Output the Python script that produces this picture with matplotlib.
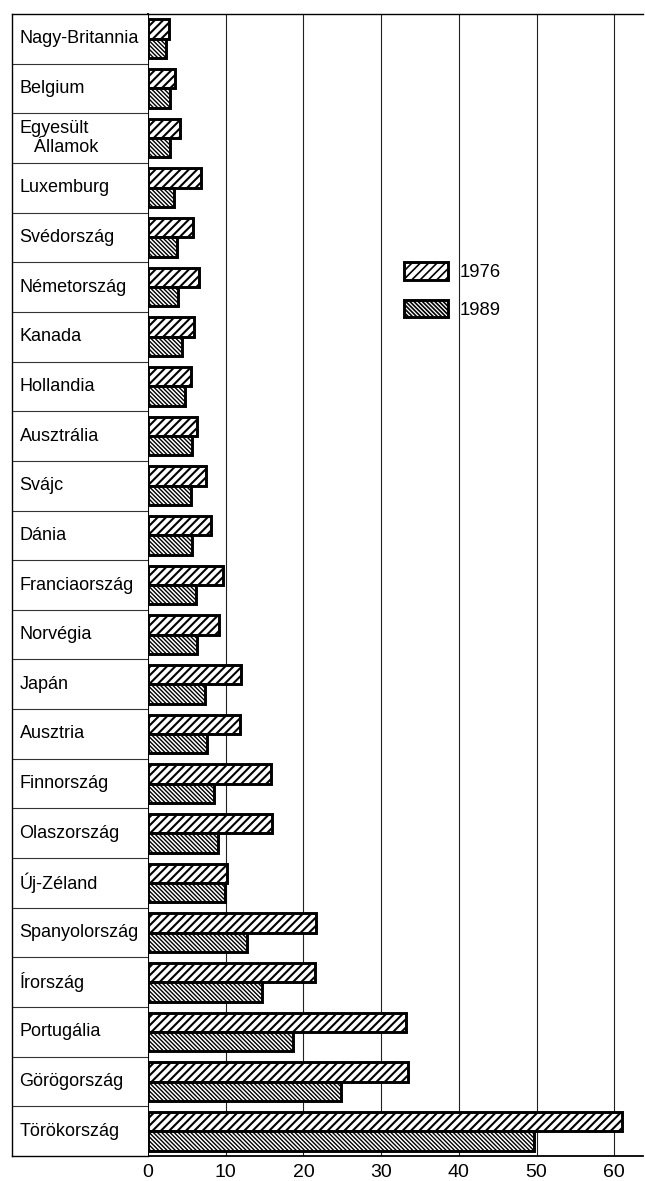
import matplotlib
matplotlib.use('Agg')
import matplotlib.pyplot as plt
from matplotlib.patches import Patch
import numpy as np

countries = ["Nagy-Britannia", "Belgium", "Egyesült\n   Államok", "Luxemburg",
             "Svédország", "Németország", "Kanada", "Hollandia", "Ausztrália",
             "Svájc", "Dánia", "Franciaország", "Norvégia", "Japán", "Ausztria",
             "Finnország", "Olaszország", "Új-Zéland", "Spanyolország",
             "Írország", "Portugália", "Görögország", "Törökország"]
v1976 = [2.7, 3.5, 4.1, 6.8, 5.8, 6.6, 5.9, 5.5, 6.3, 7.5, 8.1, 9.6, 9.2,
         12.0, 11.9, 15.8, 15.9, 10.2, 21.6, 21.5, 33.2, 33.4, 61.0]
v1989 = [2.3, 2.8, 2.8, 3.3, 3.7, 3.8, 4.4, 4.7, 5.6, 5.5, 5.6, 6.2, 6.3,
         7.4, 7.6, 8.5, 9.0, 9.9, 12.7, 14.7, 18.6, 24.8, 49.7]
series_labels = ["1976", "1989"]
xticks = [0, 10, 20, 30, 40, 50, 60]

plt.rcParams['font.family'] = ['Liberation Sans', 'DejaVu Sans']
plt.rcParams['hatch.linewidth'] = 1.2

W, H = 645, 1181
fig = plt.figure(figsize=(W / 100, H / 100), dpi=100)

def fx(px):
    return px / W

x0, x1 = 148, 643
ytop, ybot = 14, 1156
px_per_unit = 7.77

ax = fig.add_axes([fx(x0), 1 - ybot / H, fx(x1 - x0), (ybot - ytop) / H])
lab = fig.add_axes([fx(12), 1 - ybot / H, fx(x0 - 12), (ybot - ytop) / H])

HATCH_A = '////'
HATCH_B = '\\' * 8

n = len(countries)
y = np.arange(n)
h = 0.39
b1 = ax.barh(y - h / 2, v1976, height=h, color='white', edgecolor='black',
             linewidth=2.1, hatch=HATCH_A, label=series_labels[0], zorder=3)
b2 = ax.barh(y + h / 2, v1989, height=h, color='white', edgecolor='black',
             linewidth=2.1, hatch=HATCH_B, label=series_labels[1], zorder=3)
for p in b1:
    if hasattr(p, 'set_hatch_linewidth'):
        p.set_hatch_linewidth(1.5)
for p in b2:
    if hasattr(p, 'set_hatch_linewidth'):
        p.set_hatch_linewidth(1.0)

ax.set_ylim(n - 0.5, -0.5)
ax.set_xlim(0, (x1 - x0) / px_per_unit)
ax.set_xticks(xticks)
ax.set_xticklabels([str(t) for t in xticks])
ax.set_yticks([])
ax.grid(axis='x', color='#222222', linewidth=0.8, zorder=0)
ax.set_axisbelow(True)
ax.tick_params(axis='x', length=0, labelsize=14, pad=6, color='black')
for s in ['left', 'bottom', 'top']:
    ax.spines[s].set_color('black')
ax.spines['left'].set_linewidth(1.3)
ax.spines['bottom'].set_linewidth(1.3)
ax.spines['top'].set_linewidth(1.0)
ax.spines['right'].set_visible(False)

handles = [Patch(facecolor='white', edgecolor='black', linewidth=2.1, hatch=HATCH_A),
           Patch(facecolor='white', edgecolor='black', linewidth=2.1, hatch=HATCH_B)]
fig.legend(handles, series_labels, loc='upper left',
           bbox_to_anchor=(fx(404), 1 - 262 / H), bbox_transform=fig.transFigure,
           frameon=False, fontsize=13.3, handlelength=2.4, handleheight=1.1,
           handletextpad=0.6, labelspacing=1.0, borderpad=0, borderaxespad=0)

# label column
lab.set_xlim(0, 1)
lab.set_ylim(n - 0.5, -0.5)
lab.set_xticks([])
lab.set_yticks([])
for s in lab.spines.values():
    s.set_color('black')
    s.set_linewidth(1.0)
lab.spines['right'].set_visible(False)
for i in range(n - 1):
    lab.axhline(i + 0.5, color='#333333', linewidth=0.8)
for i, name in enumerate(countries):
    lab.text(0.055, i, name, ha='left', va='center', fontsize=13,
             linespacing=1.15)

fig.savefig('out.png', dpi=100)
